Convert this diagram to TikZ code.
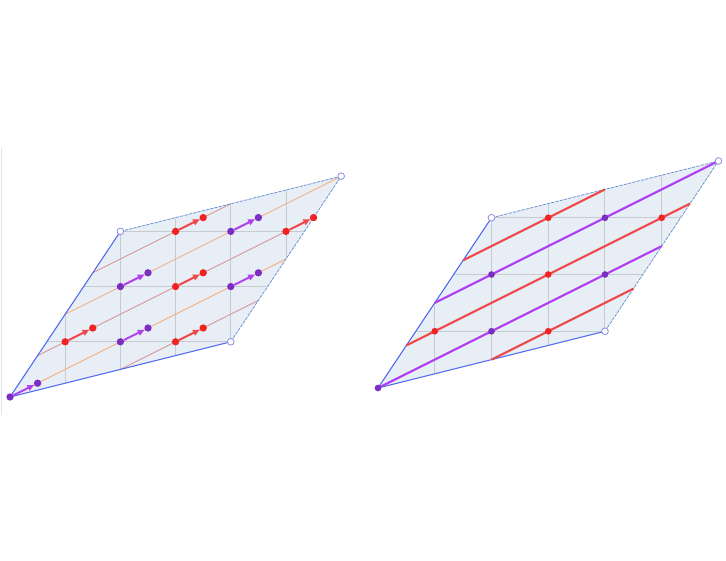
\documentclass[tikz,border=0pt]{standalone}
\usetikzlibrary{arrows.meta}
\definecolor{fillc}{HTML}{E8EEF6}
\definecolor{gridc}{HTML}{C6CAD1}
\definecolor{edgeS}{HTML}{4D66EE}
\definecolor{edgeD}{HTML}{6A92D2}
\definecolor{opencirc}{HTML}{8C8CE6}
\definecolor{dotP}{HTML}{7A2EC2}
\definecolor{dotR}{HTML}{F02222}
\definecolor{arrP}{HTML}{B03EF2}
\definecolor{arrR}{HTML}{F04848}
\definecolor{thinR}{HTML}{D99898}
\definecolor{thinO}{HTML}{F4B282}
\definecolor{sidegray}{HTML}{E4E4E4}
\tikzset{
  dotp/.style={circle, fill=dotP, inner sep=0pt, minimum size=5.5pt},
  dotr/.style={circle, fill=dotR, inner sep=0pt, minimum size=5.5pt},
  opendot/.style={circle, draw=opencirc, line width=0.6pt, fill=white, inner sep=0pt, minimum size=5pt},
  arrp/.style={draw=arrP, line width=1.5pt, -{Triangle[length=5pt,width=4.5pt]}},
  arrr/.style={draw=arrR, line width=1.5pt, -{Triangle[length=5pt,width=4.5pt]}},
  thinr/.style={draw=thinR, line width=0.7pt},
  thino/.style={draw=thinO, line width=0.7pt},
  thickr/.style={draw=arrR, line width=1.6pt},
  thickp/.style={draw=arrP, line width=1.6pt},
  gridline/.style={draw=gridc, line width=0.75pt},
  solidedge/.style={draw=edgeS, line width=0.75pt},
  dashedge/.style={draw=edgeD, line width=0.6pt, dash pattern=on 2.5pt off 0.8pt},
  region/.style={fill=fillc}
}
\begin{document}
\begin{tikzpicture}[x=1pt,y=1pt]
\useasboundingbox (0,0) rectangle (544.5,420.75);
\draw[draw=sidegray, line width=0.75pt] (0.75,109.5) -- (0.75,309.75);

% ---------- left panel ----------
\begin{scope}[shift={(7.5,123)}, x={(41.4pt,0pt)}, y={(0pt,41.4pt)}]
  \coordinate (L-o) at (0,0);
  \coordinate (L-a) at (4,1);
  \coordinate (L-b) at (2,3);
  \coordinate (L-c) at (6,4);
  \path[region] (L-o) -- (L-a) -- (L-c) -- (L-b) -- cycle;
  \begin{scope}
    \clip (L-o) -- (L-a) -- (L-c) -- (L-b) -- cycle;
    \foreach \i in {1,...,5} \draw[gridline] (\i,0) -- (\i,4);
    \foreach \j in {1,2,3} \draw[gridline] (0,\j) -- (6,\j);
  \end{scope}
  \foreach \n/\sx/\sy/\ex/\ey/\s in {1/2/0.5/4.5/1.75/thinr, 2/0/0/5/2.5/thino, 3/0.5/0.75/5.5/3.25/thinr, 4/1/1.5/6/4/thino, 5/1.5/2.25/4/3.5/thinr}{
    \coordinate (L-s\n) at (\sx,\sy);
    \coordinate (L-e\n) at (\ex,\ey);
    \draw[\s] (L-s\n) -- (L-e\n);
  }
  \draw[solidedge] (L-o) -- (L-a);
  \draw[solidedge] (L-o) -- (L-b);
  \draw[dashedge] (L-a) -- (L-c);
  \draw[dashedge] (L-b) -- (L-c);
  \node[opendot] (L-A) at (L-a) {};
  \node[opendot] (L-B) at (L-b) {};
  \node[opendot] (L-C) at (L-c) {};
  \foreach \n/\px/\py/\c in {0/0/0/p, 1/1/1/r, 2/2/1/p, 3/3/1/r, 4/2/2/p, 5/3/2/r, 6/4/2/p, 7/3/3/r, 8/4/3/p, 9/5/3/r}{
    \node[dot\c] (L-p\n) at (\px,\py) {};
    \node[dot\c] (L-q\n) at (\px+0.5,\py+0.25) {};
    \draw[arr\c] (L-p\n) -- (L-q\n);
  }
\end{scope}

% ---------- right panel ----------
\begin{scope}[shift={(283.5,129.75)}, x={(42.56pt,0pt)}, y={(0pt,42.56pt)}]
  \coordinate (R-o) at (0,0);
  \coordinate (R-a) at (4,1);
  \coordinate (R-b) at (2,3);
  \coordinate (R-c) at (6,4);
  \path[region] (R-o) -- (R-a) -- (R-c) -- (R-b) -- cycle;
  \begin{scope}
    \clip (R-o) -- (R-a) -- (R-c) -- (R-b) -- cycle;
    \foreach \i in {1,...,5} \draw[gridline] (\i,0) -- (\i,4);
    \foreach \j in {1,2,3} \draw[gridline] (0,\j) -- (6,\j);
  \end{scope}
  \draw[solidedge] (R-o) -- (R-a);
  \draw[solidedge] (R-o) -- (R-b);
  \draw[dashedge] (R-a) -- (R-c);
  \draw[dashedge] (R-b) -- (R-c);
  \foreach \n/\sx/\sy/\ex/\ey/\s in {1/2/0.5/4.5/1.75/thickr, 2/0/0/5/2.5/thickp, 3/0.5/0.75/5.5/3.25/thickr, 4/1/1.5/6/4/thickp, 5/1.5/2.25/4/3.5/thickr}{
    \coordinate (R-s\n) at (\sx,\sy);
    \coordinate (R-e\n) at (\ex,\ey);
    \draw[\s] (R-s\n) -- (R-e\n);
  }
  \node[opendot] (R-A) at (R-a) {};
  \node[opendot] (R-B) at (R-b) {};
  \node[opendot] (R-C) at (R-c) {};
  \foreach \n/\px/\py/\c in {0/0/0/p, 1/1/1/r, 2/2/1/p, 3/3/1/r, 4/2/2/p, 5/3/2/r, 6/4/2/p, 7/3/3/r, 8/4/3/p, 9/5/3/r}{
    \node[dot\c, minimum size=5pt] (R-p\n) at (\px,\py) {};
  }
\end{scope}
\end{tikzpicture}
\end{document}
